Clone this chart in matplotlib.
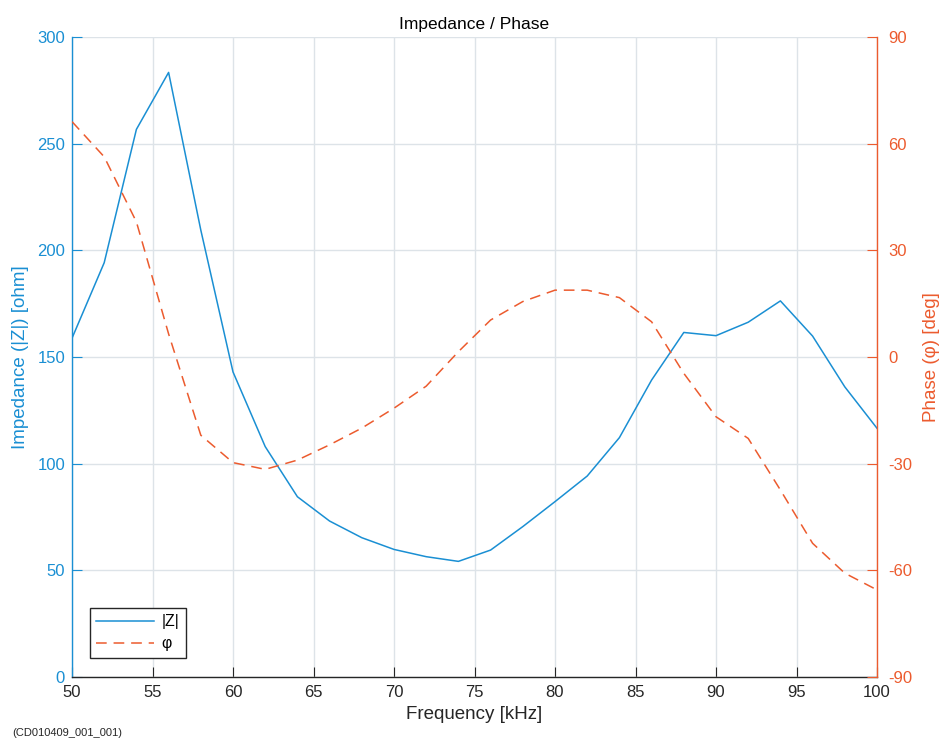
import matplotlib
matplotlib.use("Agg")
import matplotlib.pyplot as plt
import numpy as np

# data (every 2 kHz)
freq_khz = np.arange(50, 101, 2)
impedance_ohm = [158.8, 194.2, 256.7, 283.4, 209.5, 143.0, 108.0, 84.5, 73.1, 65.3,
                 59.8, 56.4, 54.2, 59.5, 70.5, 82.2, 94.2, 112.2, 139.2, 161.5,
                 160.0, 166.3, 176.3, 159.8, 136.0, 116.6]
phase_deg = [66.2, 56.3, 38.0, 6.5, -22.0, -29.7, -31.6, -29.0, -24.7, -20.0,
             -14.4, -8.2, 1.5, 10.4, 15.6, 18.8, 18.8, 16.7, 9.9, -4.6,
             -16.8, -22.9, -37.4, -52.4, -60.8, -65.5]

x_ticks = np.arange(50, 101, 5)
z_ticks = np.arange(0, 301, 50)
phase_ticks = np.arange(-90, 91, 30)

BLUE = "#1a8fd3"
ORANGE = "#ec5b2e"
DARK = "#262626"

plt.rcParams["font.family"] = ["Liberation Sans", "DejaVu Sans"]
plt.rcParams["axes.unicode_minus"] = False

fig = plt.figure(figsize=(9.5, 7.42), dpi=100)
ax = fig.add_axes([72 / 950, 65 / 742, 805 / 950, 640 / 742])
ax2 = ax.twinx()

ln1, = ax.plot(freq_khz, impedance_ohm, color=BLUE, lw=1.1, label="|Z|")
ln2, = ax2.plot(freq_khz, phase_deg, color=ORANGE, lw=1.1, ls=(0, (7, 4.5)), label="φ")

ax.set_xlim(50, 100)
ax.set_ylim(0, 300)
ax2.set_ylim(-90, 90)
ax.set_xticks(x_ticks)
ax.set_yticks(z_ticks)
ax2.set_yticks(phase_ticks)

ax.grid(True, color="#dde3e8", lw=1.0)
ax.set_axisbelow(True)

for a in (ax, ax2):
    a.spines["top"].set_visible(False)
    a.set_facecolor("none")
ax.spines["right"].set_visible(False)
ax2.spines["left"].set_visible(False)
ax2.spines["bottom"].set_visible(False)
ax.spines["left"].set_color(BLUE)
ax.spines["bottom"].set_color(DARK)
ax2.spines["right"].set_color(ORANGE)
for s in (ax.spines["left"], ax.spines["bottom"], ax2.spines["right"]):
    s.set_linewidth(1.0)

ax.tick_params(axis="x", direction="in", length=7, colors=DARK, labelsize=12, pad=6)
ax.tick_params(axis="y", direction="in", length=7, colors=BLUE, labelsize=12, pad=5)
ax2.tick_params(axis="y", direction="in", length=7, colors=ORANGE, labelsize=12, pad=8)

ax.set_xlabel("Frequency [kHz]", fontsize=13.5, color=DARK, labelpad=4)
ax.set_ylabel("Impedance (|Z|) [ohm]", fontsize=13.5, color=BLUE, labelpad=6)
ax2.set_ylabel("Phase (φ) [deg]", fontsize=13.5, color=ORANGE, labelpad=8)
ax.set_title("Impedance / Phase", fontsize=12.5, color="black", pad=6)

leg = ax.legend(handles=[ln1, ln2], loc="lower left", bbox_to_anchor=(0.022, 0.03),
                borderaxespad=0, fontsize=11.5, fancybox=False, framealpha=1,
                edgecolor=DARK, handlelength=3.6, borderpad=0.4, labelspacing=0.45,
                handletextpad=0.5)
leg.get_frame().set_linewidth(1.0)

fig.text(12 / 950, 1 - 733 / 742, "(CD010409_001_001)", fontsize=8, color=DARK,
         va="center", ha="left")

fig.savefig("out.png", dpi=100)
